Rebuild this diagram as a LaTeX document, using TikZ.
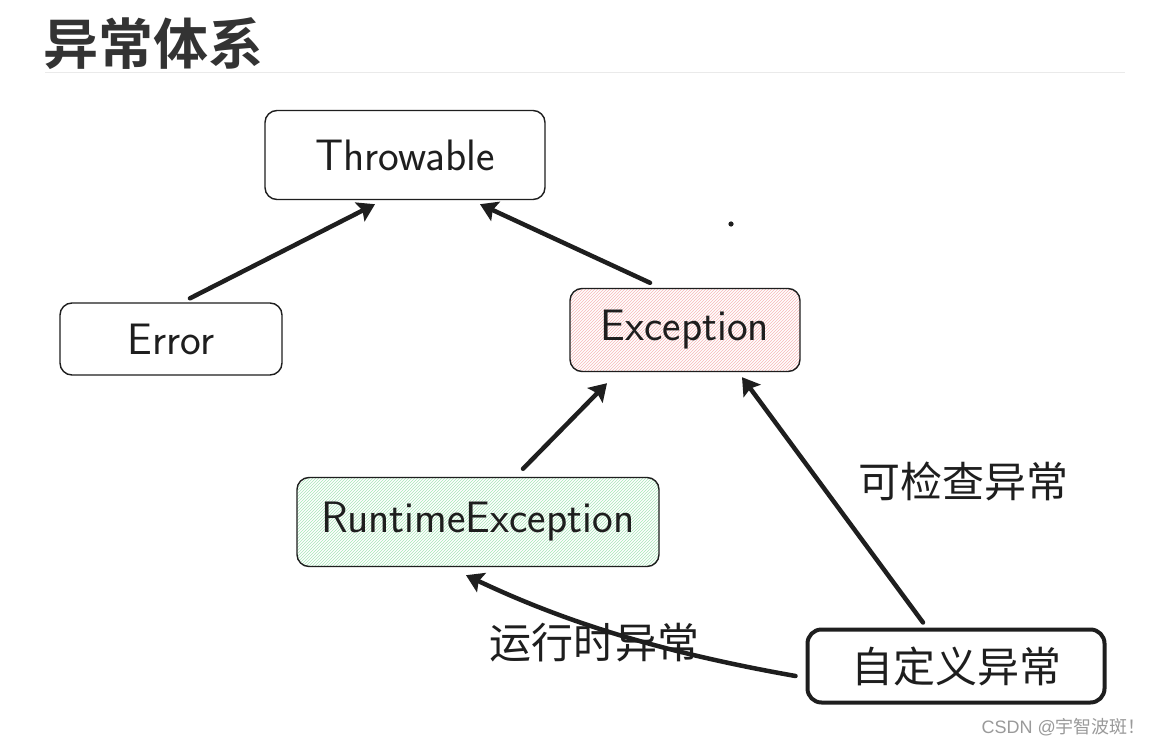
\documentclass[tikz,border=0pt]{standalone}
\usepackage{fontspec}
\newfontfamily\cjk{Noto Sans CJK SC}
\newfontfamily\cjkb{Noto Sans CJK SC}[BoldFont={* Bold}]
\usetikzlibrary{arrows.meta,patterns,calc}
\definecolor{titlegray}{HTML}{333333}
\definecolor{rulegray}{HTML}{EAEAEA}
\definecolor{pinkh}{HTML}{F7B8B8}
\definecolor{greenh}{HTML}{A8E6B8}
\definecolor{wm}{HTML}{9A9A9A}
\definecolor{ink}{HTML}{1E1E1E}
\tikzset{
  box/.style={draw=ink, line width=1.4pt, rounded corners=12pt, inner sep=0pt,
    font=\sffamily\fontsize{44}{44}\selectfont, text=ink},
  conn/.style={draw=ink, line width=4.5pt, line cap=round,
    -{Stealth[length=17pt,width=21pt,inset=3pt]}},
  lbl/.style={font=\cjk\fontsize{42}{42}\selectfont, text=ink, inner sep=0pt},
}
\begin{document}
\begin{tikzpicture}[x=1pt,y=-1pt]
\useasboundingbox[fill=white] (0,0) rectangle (1158,746);
% title
\node[anchor=west, inner sep=0pt, text=titlegray, font=\cjkb\bfseries\fontsize{55}{55}\selectfont] (title) at (43,44) {异常体系};
\draw[rulegray, line width=1pt] (45,73) -- (1125,73);
% boxes
\node[box, minimum width=280pt, minimum height=89pt] (thr) at (405,155) {Throwable};
\node[box, minimum width=222pt, minimum height=72pt] (err) at (171,339) {Error};
\node[box, minimum width=230pt, minimum height=83pt, pattern=north east lines, pattern color=pinkh] (exc) at (685,330) {Exception};
\node[box, minimum width=362pt, minimum height=89pt, pattern=north east lines, pattern color=greenh] (rt) at (478,522) {RuntimeException};
\node[box, line width=4pt, rounded corners=14pt, minimum width=297pt, minimum height=73pt, font=\cjk\fontsize{42}{42}\selectfont] (cus) at (956,666) {自定义异常};
% labels
\node[lbl, anchor=west] (lchk) at (858,481) {可检查异常};
\node[lbl, anchor=west] (lrun) at (489,643) {运行时异常};
% dot
\fill[ink] (731,224) circle (2.6pt);
% connectors
\draw[conn] ($(err.north)+(19,-4)$) -- ($(thr.south)+(-30,4)$);
\draw[conn] ($(exc.north)+(-35,-5)$) -- ($(thr.south)+(75,4)$);
\draw[conn] ($(rt.north)+(45,-8)$) -- ($(exc.south)+(-78,11)$);
\draw[conn] ($(cus.north)+(-33,-5)$) -- ($(exc.south)+(57,5)$);
\draw[conn] ($(cus.west)+(-10,10)$) .. controls (660,652) and (565,622) .. ($(rt.south)+(-12,8)$);
% watermark
\node[anchor=east, inner sep=0pt, text=wm, font=\fontspec{Liberation Sans}\fontsize{18}{18}\selectfont] (wmk) at (1146,727) {CSDN @{\cjk 宇智波斑！}};
\end{tikzpicture}
\end{document}
